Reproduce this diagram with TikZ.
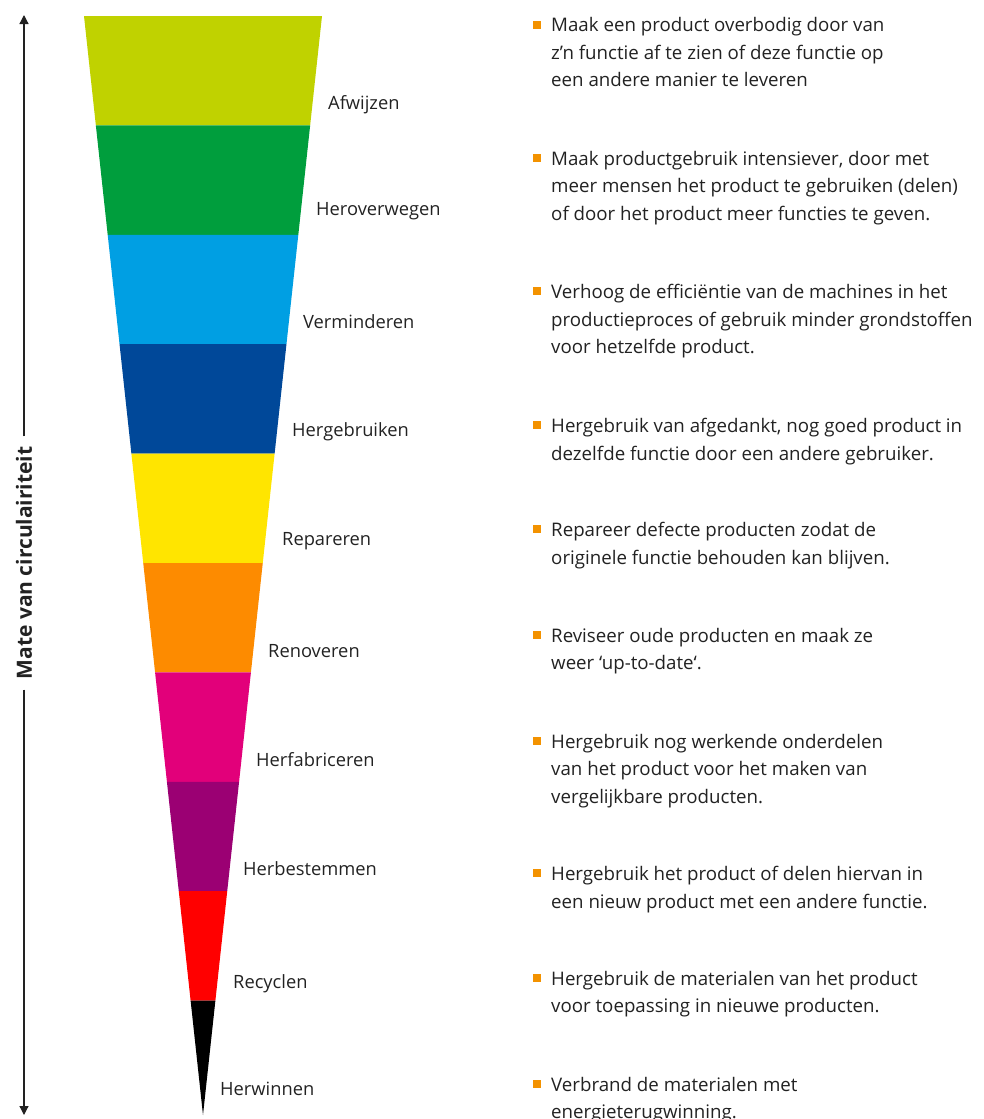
\documentclass[tikz,border=0pt]{standalone}
\usepackage{fontspec}
\setmainfont{Open Sans}
\usetikzlibrary{arrows.meta}
\definecolor{cLime}{HTML}{C0D200}
\definecolor{cGreen}{HTML}{009E3D}
\definecolor{cSky}{HTML}{009FE3}
\definecolor{cNavy}{HTML}{004899}
\definecolor{cYellow}{HTML}{FFE500}
\definecolor{cOrange}{HTML}{FD8B00}
\definecolor{cMagenta}{HTML}{E2007A}
\definecolor{cPurple}{HTML}{9B0073}
\definecolor{cRed}{HTML}{FF0000}
\definecolor{cBullet}{HTML}{F39200}
\definecolor{cInk}{HTML}{222222}
\tikzset{
  lbl/.style={anchor=mid west, inner sep=0pt, text=cInk, font=\fontsize{18.3}{22}\selectfont},
  txt/.style={anchor=north west, inner sep=0pt, align=left, text=cInk, font=\fontsize{18.7}{27.5}\selectfont},
  sq/.style={fill=cBullet, minimum size=8pt, inner sep=0pt},
  axarrow/.style={draw=cInk, line width=1.2pt, -{Triangle[width=9pt,length=9pt]}}
}
\begin{document}
\begin{tikzpicture}[x=1pt,y=-1pt]
  \useasboundingbox (0,0) rectangle (984,1119);
  % funnel
  \fill[cLime]    (84,16) -- (322,16) -- (310.15,125.4) -- (95.85,125.4) -- cycle;
  \fill[cGreen]   (95.85,125.4) -- (310.15,125.4) -- (298.31,234.8) -- (107.69,234.8) -- cycle;
  \fill[cSky]     (107.69,234.8) -- (298.31,234.8) -- (286.46,344.2) -- (119.54,344.2) -- cycle;
  \fill[cNavy]    (119.54,344.2) -- (286.46,344.2) -- (274.62,453.6) -- (131.38,453.6) -- cycle;
  \fill[cYellow]  (131.38,453.6) -- (274.62,453.6) -- (262.77,563) -- (143.23,563) -- cycle;
  \fill[cOrange]  (143.23,563) -- (262.77,563) -- (250.92,672.4) -- (155.08,672.4) -- cycle;
  \fill[cMagenta] (155.08,672.4) -- (250.92,672.4) -- (239.08,781.8) -- (166.92,781.8) -- cycle;
  \fill[cPurple]  (166.92,781.8) -- (239.08,781.8) -- (227.23,891.2) -- (178.77,891.2) -- cycle;
  \fill[cRed]     (178.77,891.2) -- (227.23,891.2) -- (215.39,1000.6) -- (190.61,1000.6) -- cycle;
  \fill[black]    (190.61,1000.6) -- (215.39,1000.6) -- (203,1115) -- cycle;
  % level names
  \node[lbl] (l1) at (328,107) {Afwijzen};
  \node[lbl] (l2) at (316,213) {Heroverwegen};
  \node[lbl] (l3) at (303,326) {Verminderen};
  \node[lbl] (l4) at (292,434) {Hergebruiken};
  \node[lbl] (l5) at (282,543) {Repareren};
  \node[lbl] (l6) at (268,655) {Renoveren};
  \node[lbl] (l7) at (256,764) {Herfabriceren};
  \node[lbl] (l8) at (243,873) {Herbestemmen};
  \node[lbl] (l9) at (233,986) {Recyclen};
  \node[lbl] (l10) at (220,1093) {Herwinnen};
  % axis
  \node[rotate=90, inner xsep=10pt, text=cInk, font=\fontsize{21}{24}\selectfont\bfseries] (ax) at (24,563) {Mate van circulairiteit};
  \coordinate (axtop) at (24,15);
  \coordinate (axbot) at (24,1115);
  \draw[axarrow] (ax.east) -- (axtop);
  \draw[axarrow] (ax.west) -- (axbot);
  % descriptions
  \node[sq] (s1) at (537,25) {};
  \node[txt] (t1) at (551,17.5) {Maak een product overbodig door van\\z’n functie af te zien of deze functie op\\een andere manier te leveren};
  \node[sq] (s2) at (537,158) {};
  \node[txt] (t2) at (551,151) {Maak productgebruik intensiever, door met\\meer mensen het product te gebruiken (delen)\\of door het product meer functies te geven.};
  \node[sq] (s3) at (537,291) {};
  \node[txt] (t3) at (551,284) {Verhoog de efficiëntie van de machines in het\\productieproces of gebruik minder grondstoffen\\voor hetzelfde product.};
  \node[sq] (s4) at (537,425) {};
  \node[txt] (t4) at (551,418) {Hergebruik van afgedankt, nog goed product in\\dezelfde functie door een andere gebruiker.};
  \node[sq] (s5) at (537,529) {};
  \node[txt] (t5) at (551,522) {Repareer defecte producten zodat de\\originele functie behouden kan blijven.};
  \node[sq] (s6) at (537,635) {};
  \node[txt] (t6) at (551,628) {Reviseer oude producten en maak ze\\weer ‘up-to-date‘.};
  \node[sq] (s7) at (537,741) {};
  \node[txt] (t7) at (551,734) {Hergebruik nog werkende onderdelen\\van het product voor het maken van\\vergelijkbare producten.};
  \node[sq] (s8) at (537,873) {};
  \node[txt] (t8) at (551,866) {Hergebruik het product of delen hiervan in\\een nieuw product met een andere functie.};
  \node[sq] (s9) at (537,978) {};
  \node[txt] (t9) at (551,971) {Hergebruik de materialen van het product\\voor toepassing in nieuwe producten.};
  \node[sq] (s10) at (537,1084) {};
  \node[txt] (t10) at (551,1077) {Verbrand de materialen met\\energieterugwinning.};
\end{tikzpicture}
\end{document}
